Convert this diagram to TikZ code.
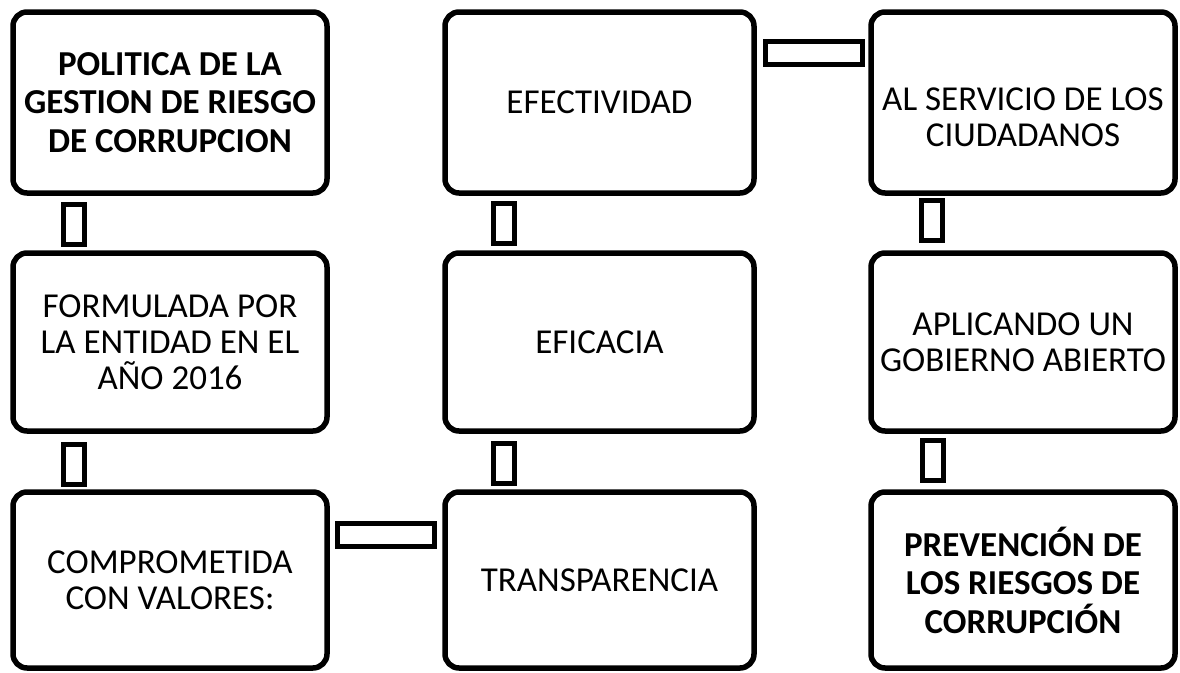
\documentclass[tikz,border=0pt]{standalone}
\usepackage{fontspec}
\setmainfont{Carlito}
\begin{document}
\begin{tikzpicture}[x=1pt,y=-1pt,
  box/.style={draw=black, line width=5.5pt, rounded corners=14pt, align=center, inner sep=0pt, font=\fontsize{35}{36}\selectfont},
  boldbox/.style={box, font=\fontsize{35}{38.5}\selectfont\bfseries},
  txt/.style={align=center, inner sep=0pt, font=\fontsize{35}{36}\selectfont},
  vlink/.style={draw=black, line width=5pt, minimum width=21pt, minimum height=40pt, inner sep=0pt},
  hlink/.style={draw=black, line width=5pt, minimum width=97pt, minimum height=23pt, inner sep=0pt}]
\useasboundingbox[fill=white] (0,0) rectangle (1180,672);
% boxes
\node[boldbox, minimum width=314pt, minimum height=181pt] (b11) at (170,102.5) {POLITICA DE LA\\GESTION DE RIESGO\\DE CORRUPCION};
\node[box, minimum width=309pt, minimum height=181pt] (b12) at (599.5,102.5) {EFECTIVIDAD};
\node[box, minimum width=304pt, minimum height=181pt] (b13) at (1023,102.5) {};
\node[txt] (t13) at (1023,117) {AL SERVICIO DE LOS\\CIUDADANOS};
\node[box, minimum width=314pt, minimum height=178pt] (b21) at (170,342) {FORMULADA POR\\LA ENTIDAD EN EL\\AÑO 2016};
\node[box, minimum width=309pt, minimum height=178pt] (b22) at (599.5,342) {EFICACIA};
\node[box, minimum width=304pt, minimum height=178pt] (b23) at (1023,342) {APLICANDO UN\\GOBIERNO ABIERTO};
\node[box, minimum width=314pt, minimum height=176pt] (b31) at (170,580) {COMPROMETIDA\\CON VALORES:};
\node[box, minimum width=309pt, minimum height=176pt] (b32) at (599.5,580) {TRANSPARENCIA};
\node[boldbox, minimum width=304pt, minimum height=176pt] (b33) at (1023,580) {PREVENCIÓN DE\\LOS RIESGOS DE\\CORRUPCIÓN};
% link rectangles
\node[vlink] (v1a) at (74,224.5) {};
\node[vlink] (v1b) at (74,464.5) {};
\node[vlink] (v2a) at (504,223) {};
\node[vlink] (v2b) at (504,463.5) {};
\node[vlink] (v3a) at (932,220.5) {};
\node[vlink] (v3b) at (933,460) {};
\node[hlink] (h1) at (813.5,52.5) {};
\node[hlink] (h3) at (386,535) {};
\end{tikzpicture}
\end{document}
